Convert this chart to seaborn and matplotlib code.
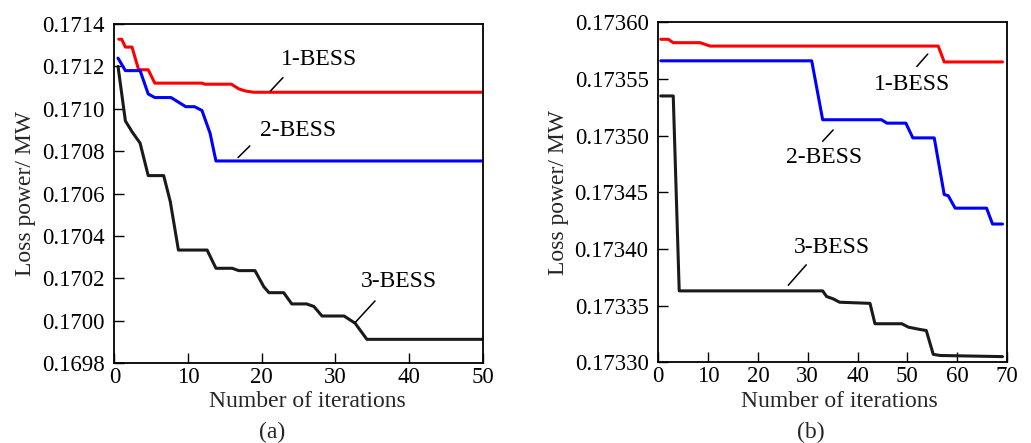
import matplotlib
matplotlib.use("Agg")
import matplotlib.pyplot as plt
import seaborn as sns
import pandas as pd
from matplotlib.ticker import FormatStrFormatter

# ---------------- data (breakpoints) ----------------
# Panel (a)
iter_1bess_a = [0.6, 1.0, 1.5, 2.4, 3.3, 4.6, 5.5, 11.9, 12.3, 15.9, 16.9, 17.8, 18.9, 50]
loss_1bess_a = [0.171328, 0.171328, 0.171291, 0.171291, 0.171184, 0.171184, 0.171121,
                0.171121, 0.171116, 0.171116, 0.171094, 0.171084, 0.171078, 0.171078]

iter_2bess_a = [0.5, 1.5, 3.5, 4.6, 5.5, 7.7, 9.7, 10.9, 11.9, 13.0, 13.8, 50]
loss_2bess_a = [0.171239, 0.171180, 0.171180, 0.171070, 0.171053, 0.171053, 0.171010,
                0.171010, 0.170992, 0.170885, 0.170754, 0.170754]

iter_3bess_a = [0.5, 1.5, 2.4, 3.5, 4.6, 6.7, 7.6, 8.7, 12.6, 13.8, 16.0, 16.9, 19.1,
                20.3, 21.0, 23.0, 24.1, 26.1, 27.1, 28.2, 31.2, 32.7, 34.3, 50]
loss_3bess_a = [0.171200, 0.170943, 0.170892, 0.170838, 0.170685, 0.170685, 0.170562,
                0.170334, 0.170334, 0.170248, 0.170248, 0.170237, 0.170237, 0.170161,
                0.170133, 0.170133, 0.170080, 0.170080, 0.170068, 0.170023, 0.170023,
                0.169989, 0.169913, 0.169913]

# Panel (b)
iter_1bess_b = [0.5, 2.0, 3.0, 8.4, 10.4, 56.2, 57.4, 69.1]
loss_1bess_b = [0.173585, 0.173585, 0.173582, 0.173582, 0.173579, 0.173579, 0.173565, 0.173565]

iter_2bess_b = [0.5, 30.8, 33.0, 44.8, 45.9, 49.7, 51.1, 55.4, 57.4, 58.2, 59.6, 65.9, 67.1, 69.1]
loss_2bess_b = [0.173566, 0.173566, 0.173514, 0.173514, 0.173511, 0.173511, 0.173498,
                0.173498, 0.173448, 0.173447, 0.173436, 0.173436, 0.173422, 0.173422]

iter_3bess_b = [0.5, 3.0, 4.2, 33.0, 33.8, 35.1, 36.4, 42.5, 43.5, 48.9, 50.2, 52.5,
                53.8, 55.2, 56.6, 69.1]
loss_3bess_b = [0.173535, 0.173535, 0.173363, 0.173363, 0.173358, 0.173356, 0.173353,
                0.173352, 0.173334, 0.173334, 0.173331, 0.173329, 0.173328, 0.173307,
                0.173306, 0.173305]

series_names = ["1-BESS", "2-BESS", "3-BESS"]
series_colors = ["#ff0000", "#0000ff", "#1a1a1a"]

xticks_a = [0, 10, 20, 30, 40, 50]
yticks_a = [0.1698, 0.1700, 0.1702, 0.1704, 0.1706, 0.1708, 0.1710, 0.1712, 0.1714]
xticks_b = [0, 10, 20, 30, 40, 50, 60, 70]
yticks_b = [0.17330, 0.17335, 0.17340, 0.17345, 0.17350, 0.17355, 0.17360]

# label placement: (text x, text y, leader start x, y, leader end x, y)
labels_a = [(27.85, 0.171234, 22.9, 0.171147, 21.2, 0.171084),
            (25.0, 0.170900, 18.4, 0.170825, 16.8, 0.170770),
            (38.6, 0.170185, 35.4, 0.170094, 32.7, 0.169992)]
labels_b = [(50.9, 0.173545, 54.1, 0.173572, 51.9, 0.173561),
            (33.3, 0.173481, 35.1, 0.173505, 33.0, 0.173495),
            (34.9, 0.173401, 29.7, 0.173386, 26.1, 0.173368)]

# ---------------- style ----------------
sns.set_style("ticks")
plt.rcParams["font.family"] = ["Liberation Serif", "DejaVu Serif"]
plt.rcParams["font.size"] = 17

fig = plt.figure(figsize=(10.31, 4.43), dpi=100)
ax_a = fig.add_axes([0.1109, 0.1799, 0.3571, 0.766])
ax_b = fig.add_axes([0.6385, 0.1822, 0.3382, 0.7675])


def build(xs, ys):
    rows = []
    for name, x, y in zip(series_names, xs, ys):
        for xi, yi in zip(x, y):
            rows.append({"iter": xi, "loss": yi, "series": name})
    return pd.DataFrame(rows)


df_a = build([iter_1bess_a, iter_2bess_a, iter_3bess_a],
             [loss_1bess_a, loss_2bess_a, loss_3bess_a])
df_b = build([iter_1bess_b, iter_2bess_b, iter_3bess_b],
             [loss_1bess_b, loss_2bess_b, loss_3bess_b])

palette = dict(zip(series_names, series_colors))

for ax, df, xt, yt, xmax, fmt, labs, xl_x in [
        (ax_a, df_a, xticks_a, yticks_a, 50, "%.4f", labels_a, 0.525),
        (ax_b, df_b, xticks_b, yticks_b, 70, "%.5f", labels_b, 0.52)]:
    sns.lineplot(data=df, x="iter", y="loss", hue="series", palette=palette,
                 estimator=None, sort=False, linewidth=2.2, legend=False, ax=ax)
    ax.set_xlim(0, xmax)
    ax.set_ylim(yt[0], yt[-1])
    ax.set_xticks(xt)
    ax.set_yticks(yt)
    ax.yaxis.set_major_formatter(FormatStrFormatter(fmt))
    ax.tick_params(direction="in", length=7, width=1.0, labelsize=16.5,
                   top=False, right=False, colors="black")
    ax.tick_params(axis="x", pad=3)
    ax.tick_params(axis="y", pad=7)
    for s in ax.spines.values():
        s.set_visible(True)
        s.set_linewidth(1.3)
        s.set_color("black")
    ax.set_xlabel("Number of iterations", fontsize=17)
    ax.xaxis.set_label_coords(xl_x, -0.083)
    ax.set_ylabel("Loss power/ MW", fontsize=17, labelpad=4)
    for name, (tx, ty, lx0, ly0, lx1, ly1) in zip(series_names, labs):
        ax.text(tx, ty, name, fontsize=17, ha="center", va="center", color="black")
        ax.plot([lx0, lx1], [ly0, ly1], color="black", linewidth=1.1)

fig.text(272 / 1031, 1 - 432 / 443, "(a)", fontsize=17, ha="center", va="center")
fig.text(811 / 1031, 1 - 432 / 443, "(b)", fontsize=17, ha="center", va="center")

fig.savefig("out.png", dpi=100)
